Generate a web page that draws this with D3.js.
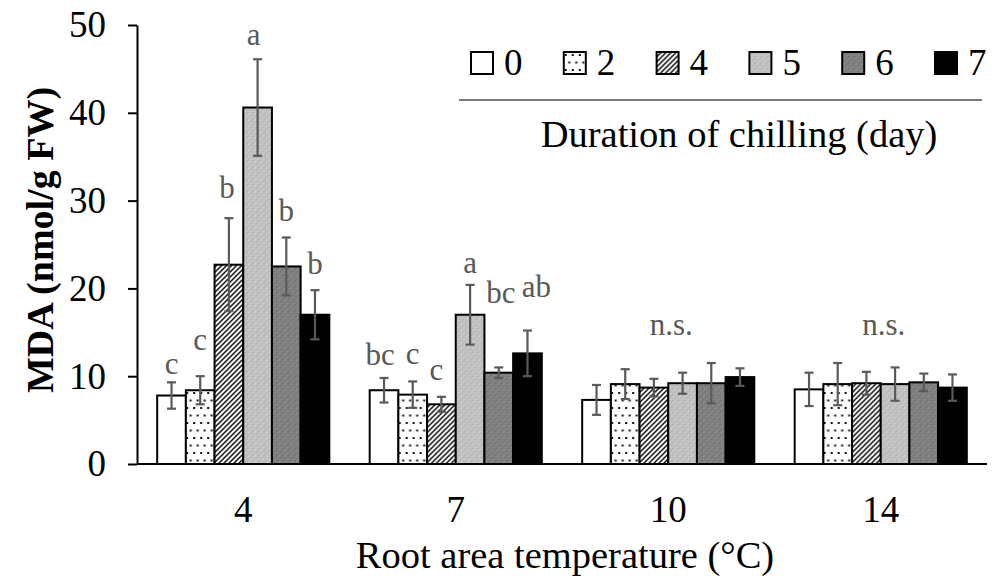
<!DOCTYPE html>
<html>
<head>
<meta charset="utf-8">
<script src="https://cdn.jsdelivr.net/npm/d3@7"></script>
<style>
  html, body { margin: 0; padding: 0; background: #fff; }
  svg { display: block; }
  text { font-family: "Liberation Serif", "Times New Roman", serif; }
</style>
</head>
<body>
<svg id="chart" width="992" height="583"></svg>
<script>
// Root-zone temperatures (°C) on the x axis
const temperatures = ["4", "7", "10", "14"];
// Chilling durations (days), one bar per duration in each group
const durations = ["0", "2", "4", "5", "6", "7"];

// MDA content (nmol/g FW), means per temperature, in duration order
const mda4  = [7.8, 8.4, 22.7, 40.6, 22.5, 17.0];
const mda7  = [8.4, 7.9, 6.8, 17.0, 10.4, 12.6];
const mda10 = [7.3, 9.1, 8.7, 9.2, 9.2, 9.9];
const mda14 = [8.5, 9.1, 9.2, 9.1, 9.3, 8.7];

// Standard errors, same order
const se4  = [1.5, 1.6, 5.3, 5.5, 3.3, 2.8];
const se7  = [1.4, 1.5, 0.85, 3.4, 0.6, 2.6];
const se10 = [1.7, 1.7, 1.0, 1.2, 2.3, 1.0];
const se14 = [1.9, 2.4, 1.3, 1.9, 1.0, 1.5];

// Significance letters per bar and where they sit (in MDA units)
const letters4  = ["c", "c", "b", "a", "b", "b"];
const letterAt4 = [10.25, 13.0, 30.3, 47.7, 27.7, 21.6];
const letters7  = ["bc", "c", "c", "a", "bc", "ab"];
const letterAt7 = [11.3, 11.4, 9.6, 21.8, 18.3, 19.0];
// Groups without significant differences get one label
const groupNote   = ["", "", "n.s.", "n.s."];
const groupNoteAt = [0, 0, 14.7, 14.7];

const yTicks = [0, 10, 20, 30, 40, 50];

const means  = [mda4, mda7, mda10, mda14];
const errors = [se4, se7, se10, se14];
const letters   = [letters4, letters7, null, null];
const letterAts = [letterAt4, letterAt7, null, null];
// small horizontal nudges (px) so neighbouring letters don't collide
const letterNudge = [[0, 0, -2, -4, 0, 0], [-4, 0, -5, 0, 2, 9], null, null];

const svg = d3.select("#chart");
const margin = { left: 137, right: 5, top: 25, bottom: 119 };
const W = 992, H = 583;

const x0 = d3.scaleBand()
  .domain(temperatures)
  .range([margin.left, W - margin.right])
  .paddingInner(0.19)
  .paddingOuter(0.095);

const x1 = d3.scaleBand()
  .domain(durations)
  .range([0, x0.bandwidth()]);

const y = d3.scaleLinear()
  .domain([0, 50])
  .range([H - margin.bottom, margin.top]);

// ---- fill patterns ----
const defs = svg.append("defs");

const dots = defs.append("pattern").attr("id", "dots")
  .attr("patternUnits", "userSpaceOnUse").attr("width", 7).attr("height", 15);
dots.append("rect").attr("width", 7).attr("height", 15).attr("fill", "#fff");
dots.append("rect").attr("x", 1).attr("y", 2).attr("width", 2).attr("height", 2).attr("fill", "#111");
dots.append("rect").attr("x", 4.5).attr("y", 9.5).attr("width", 2).attr("height", 2).attr("fill", "#111");

const hatch = defs.append("pattern").attr("id", "hatch")
  .attr("patternUnits", "userSpaceOnUse").attr("width", 5).attr("height", 5);
hatch.append("rect").attr("width", 5).attr("height", 5).attr("fill", "#fff");
hatch.append("path")
  .attr("d", "M-1,1 L1,-1 M0,5 L5,0 M4,6 L6,4")
  .attr("stroke", "#000").attr("stroke-width", 1.4);

function speckle(id, base, light, dark) {
  const p = defs.append("pattern").attr("id", id)
    .attr("patternUnits", "userSpaceOnUse").attr("width", 6).attr("height", 6);
  p.append("rect").attr("width", 6).attr("height", 6).attr("fill", base);
  [[1, 0], [4, 3], [2, 5]].forEach(([a, b]) =>
    p.append("rect").attr("x", a).attr("y", b).attr("width", 1).attr("height", 1).attr("fill", light));
  [[3, 1], [0, 4], [5, 5]].forEach(([a, b]) =>
    p.append("rect").attr("x", a).attr("y", b).attr("width", 1).attr("height", 1).attr("fill", dark));
}
speckle("grayLight", "#c0c0c0", "#d6d6d6", "#b0b0b0");
speckle("grayDark", "#7f7f7f", "#959595", "#707070");

const fills = d3.scaleOrdinal()
  .domain(durations)
  .range(["#ffffff", "url(#dots)", "url(#hatch)", "url(#grayLight)", "url(#grayDark)", "#000000"]);

// ---- axes ----
const yAxis = d3.axisLeft(y).tickValues(yTicks).tickSize(9).tickSizeOuter(0).tickPadding(22);
const gy = svg.append("g").attr("transform", `translate(${margin.left},0)`).call(yAxis);
gy.attr("font-family", null);
gy.selectAll("path, line").attr("stroke", "#000").attr("stroke-width", 2);
gy.selectAll("text").attr("font-size", 37).attr("fill", "#000");

// ---- bars ----
const groups = svg.append("g").selectAll("g")
  .data(temperatures)
  .join("g")
  .attr("transform", d => `translate(${x0(d)},0)`);

groups.each(function (t, gi) {
  const g = d3.select(this);
  const rows = durations.map((d, i) => ({
    d, v: means[gi][i], e: errors[gi][i],
    lab: letters[gi] ? letters[gi][i] : null,
    at: letterAts[gi] ? letterAts[gi][i] : null,
    dx: letterNudge[gi] ? letterNudge[gi][i] : 0
  }));

  g.selectAll("rect.bar").data(rows).join("rect")
    .attr("class", "bar")
    .attr("x", r => x1(r.d))
    .attr("width", x1.bandwidth())
    .attr("y", r => y(r.v))
    .attr("height", r => y(0) - y(r.v))
    .attr("fill", r => fills(r.d))
    .attr("stroke", "#000")
    .attr("stroke-width", 2);

  const eb = g.selectAll("g.err").data(rows).join("g").attr("class", "err")
    .attr("stroke", "#5a5a5a").attr("stroke-width", 2.2);
  eb.append("line")
    .attr("x1", r => x1(r.d) + x1.bandwidth() / 2)
    .attr("x2", r => x1(r.d) + x1.bandwidth() / 2)
    .attr("y1", r => y(r.v + r.e))
    .attr("y2", r => y(r.v - r.e));
  [1, -1].forEach(s => eb.append("line")
    .attr("x1", r => x1(r.d) + x1.bandwidth() / 2 - 4.5)
    .attr("x2", r => x1(r.d) + x1.bandwidth() / 2 + 4.5)
    .attr("y1", r => y(r.v + s * r.e))
    .attr("y2", r => y(r.v + s * r.e)));

  g.selectAll("text.sig").data(rows.filter(r => r.lab)).join("text")
    .attr("class", "sig")
    .attr("x", r => x1(r.d) + x1.bandwidth() / 2 + r.dx)
    .attr("y", r => y(r.at))
    .attr("text-anchor", "middle")
    .attr("font-size", 31)
    .attr("fill", "#595959")
    .text(r => r.lab);

  if (groupNote[gi]) {
    g.append("text")
      .attr("x", x0.bandwidth() / 2 + 3)
      .attr("y", y(groupNoteAt[gi]))
      .attr("text-anchor", "middle")
      .attr("font-size", 31)
      .attr("fill", "#595959")
      .text(groupNote[gi]);
  }
});

// x axis baseline (no tick marks)
svg.append("line")
  .attr("x1", margin.left).attr("x2", W - margin.right)
  .attr("y1", y(0)).attr("y2", y(0))
  .attr("stroke", "#000").attr("stroke-width", 2);

// category labels
svg.append("g").selectAll("text")
  .data(temperatures)
  .join("text")
  .attr("x", d => x0(d) + x0.bandwidth() / 2)
  .attr("y", 522)
  .attr("text-anchor", "middle")
  .attr("font-size", 37)
  .attr("fill", "#000")
  .text(d => d);

// axis titles
svg.append("text")
  .attr("x", 565)
  .attr("y", 568)
  .attr("text-anchor", "middle")
  .attr("font-size", 38.5)
  .attr("fill", "#000")
  .text("Root area temperature (°C)");

svg.append("text")
  .attr("transform", "translate(53,240) rotate(-90)")
  .attr("text-anchor", "middle")
  .attr("font-size", 38)
  .attr("font-weight", "bold")
  .attr("fill", "#000")
  .text("MDA (nmol/g FW)");

// ---- legend ----
const legend = svg.append("g");
const legX = d3.scalePoint().domain(durations).range([471, 935]);
const item = legend.selectAll("g").data(durations).join("g")
  .attr("transform", d => `translate(${legX(d)},52)`);
item.append("rect")
  .attr("width", 22).attr("height", 22)
  .attr("fill", d => fills(d))
  .attr("stroke", "#000").attr("stroke-width", 2);
item.append("text")
  .attr("x", 33).attr("y", 22.5)
  .attr("font-size", 37)
  .attr("fill", "#000")
  .text(d => d);

legend.append("line")
  .attr("x1", 459).attr("x2", 982)
  .attr("y1", 100).attr("y2", 100)
  .attr("stroke", "#7a7a7a").attr("stroke-width", 2);

legend.append("text")
  .attr("x", 739).attr("y", 147)
  .attr("text-anchor", "middle")
  .attr("font-size", 38.5)
  .attr("fill", "#000")
  .text("Duration of chilling (day)");
</script>
</body>
</html>
